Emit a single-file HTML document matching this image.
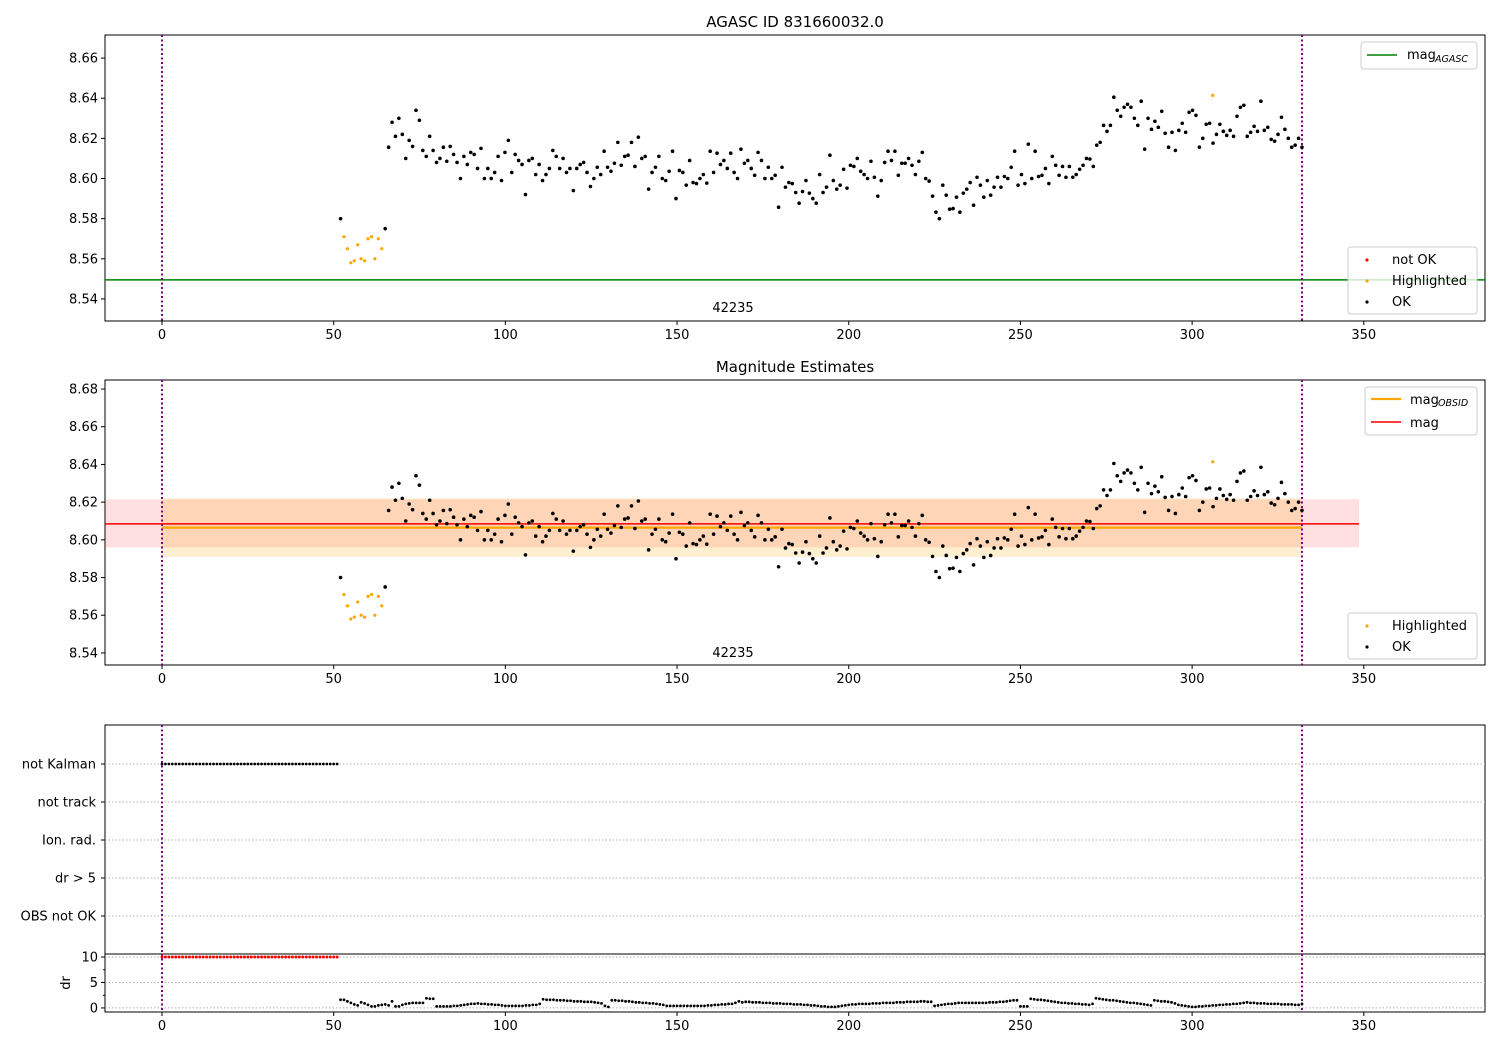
<!DOCTYPE html>
<html><head><meta charset="utf-8"><style>
body{margin:0;background:#fff;}
svg{display:block;font-family:"DejaVu Sans","Liberation Sans",sans-serif;}
</style></head><body>
<svg id="chart" width="1500" height="1050" viewBox="0 0 1500 1050" xmlns="http://www.w3.org/2000/svg"></svg>
<script>
// ---- data ----
const okEarlyX = [52, 65];
const okEarlyMag = [8.580, 8.575];
const hlX = [53,54,55,56,57,58,59,60,61,62,63,64,306];
const hlMag = [8.571,8.565,8.558,8.559,8.567,8.560,8.559,8.570,8.571,8.560,8.570,8.565,8.6414];
const okStartX = 66, okEndX = 332;
const okMag = [
8.6156,8.628,8.621,8.630,8.622,8.610,8.619,8.616,8.634,8.629,8.614,8.611,8.621,8.614,8.608,8.610,8.6156,8.6086,8.616,8.612,8.608,8.600,8.611,8.607,8.613,8.612,8.605,8.615,8.600,8.605,8.600,8.603,8.611,8.599,8.613,8.619,8.603,8.612,8.609,8.607,8.592,8.609,8.610,8.602,8.607,8.599,8.602,8.605,8.614,8.611,8.605,8.610,8.603,8.605,8.594,8.605,
8.607,8.608,8.603,8.596,8.600,8.6056,8.602,8.6136,8.6056,8.6036,8.6076,8.618,8.6066,8.611,8.6116,8.618,8.606,8.6206,8.610,8.611,8.5947,8.603,8.6056,8.611,8.600,8.599,8.6036,8.6136,8.590,8.604,8.603,8.5967,8.609,8.598,8.5975,8.600,8.602,8.5977,8.6136,8.603,8.6126,8.607,8.609,8.605,8.6126,8.603,8.600,8.6146,8.6076,8.609,8.605,8.6016,8.613,8.609,8.600,8.6056,8.600,8.6016,8.5857,8.6056,8.5957,8.598,8.5975,8.593,8.5877,8.5935,8.599,8.5927,8.590,8.5877,8.602,
8.593,8.5957,8.6116,8.599,8.5947,8.5967,8.6046,8.5952,8.6066,8.606,8.610,8.6036,8.602,8.600,8.6086,8.6006,8.5912,8.599,8.608,8.6136,8.609,8.6136,8.6016,8.6076,8.6076,8.610,8.6066,8.602,8.6086,8.613,8.600,8.5987,8.5912,8.5832,8.580,8.5967,8.5917,8.5847,8.585,8.5907,8.5832,8.5927,8.5947,8.598,8.5867,8.6006,8.5967,8.5907,8.599,8.5917,8.5957,8.6006,8.5957,8.601,8.600,8.6056,8.6136,8.5967,8.602,8.5975,8.6171,8.600,8.6136,8.601,8.6016,8.605,8.5975,8.611,8.6066,8.6016,8.606,8.6006,
8.606,8.6006,8.602,8.6046,8.6066,8.610,8.6097,8.606,8.6166,8.618,8.6265,8.6235,8.6265,8.6405,8.634,8.631,8.6355,8.637,8.6355,8.630,8.6265,8.6385,8.6146,8.630,8.6245,8.6285,8.6255,8.6335,8.6225,8.6156,8.623,8.614,8.624,8.6275,8.623,8.633,8.634,8.6315,8.6156,8.620,8.627,8.6275,8.6176,8.622,8.627,8.6235,8.6215,8.624,8.621,8.631,8.6355,8.6365,8.621,8.623,8.626,8.6235,8.6385,8.624,8.6255,8.6195,8.6186,8.622,8.6305,8.6245,8.620,8.6156,8.6166,8.620,8.6156
];
const drStartX = 52;
const drVals = [
1.6,1.6,1.3,1.0,0.7,0.5,1.1,0.9,0.6,0.3,0.3,0.5,0.6,0.7,0.5,1.3,0.3,0.3,0.6,0.8,0.9,1.0,1.0,1.0,1.0,1.9,1.8,1.8,
0.3,0.3,0.3,0.3,0.3,0.4,0.4,0.5,
0.6,0.7,0.8,0.8,0.9,0.8,0.8,0.7,0.7,0.6,0.6,0.5,
0.4,0.4,0.4,0.4,0.4,0.4,0.5,0.5,0.6,0.6,0.8,
1.7,1.6,1.6,1.6,1.5,1.5,1.5,1.4,1.4,1.3,1.3,1.3,1.2,1.2,1.2,1.1,1.0,0.9,0.4,
0.2,
1.5,1.5,1.4,1.4,1.3,1.3,1.2,1.1,1.1,1.0,1.0,0.9,0.9,0.8,0.7,0.6,
0.4,0.4,0.4,0.4,0.4,0.4,0.4,0.4,0.4,0.4,0.4,0.4,
0.5,0.5,0.6,0.6,0.7,0.7,0.8,0.8,
1.0,1.3,1.1,
1.2,1.2,1.1,1.1,1.1,1.0,1.0,1.0,0.9,0.9,0.9,0.8,0.8,0.8,0.7,0.7,0.7,0.6,0.6,0.5,0.5,0.4,0.3,0.3,
0.2,0.2,0.2,0.3,
0.4,0.5,0.6,0.7,0.7,0.8,
0.8,0.8,0.8,0.9,0.9,0.9,1.0,1.0,1.0,1.0,1.1,1.1,1.1,1.2,1.2,1.2,1.2,1.3,1.3,1.2,1.2,
0.4,0.5,0.6,0.7,0.8,0.8,0.9,
1.0,1.0,1.0,1.0,1.0,1.0,1.0,1.0,1.0,1.1,1.1,1.1,1.2,1.2,1.3,1.4,1.5,1.5,
0.3,0.3,0.3,
1.8,1.7,1.6,1.6,1.5,1.4,1.3,1.2,1.1,1.0,1.0,0.9,0.9,0.8,0.8,0.7,0.7,0.6,0.8,
1.9,1.8,1.7,1.6,1.5,1.5,1.4,1.3,1.2,1.1,1.0,1.0,0.9,0.8,0.7,0.6,0.5,
1.5,1.4,1.3,1.3,1.2,1.1,0.9,
0.6,0.5,0.4,0.3,0.2,0.2,0.3,
0.3,0.4,0.4,0.5,0.5,0.6,0.6,0.7,0.7,0.8,0.8,0.9,1.0,1.1,1.0,1.0,0.9,0.9,0.9,0.8,0.8,0.8,0.8,0.7,0.7,0.7,0.7,0.6,0.6,0.8
];
const notKalmanX = [0,1,2,3,4,5,6,7,8,9,10,11,12,13,14,15,16,17,18,19,20,21,22,23,24,25,26,27,28,29,30,31,32,33,34,35,36,37,38,39,40,41,42,43,44,45,46,47,48,49,50,51];
const drClippedVal = 10;
const xTicks = [0,50,100,150,200,250,300,350];
const p1YTicks = [8.54,8.56,8.58,8.60,8.62,8.64,8.66];
const p2YTicks = [8.54,8.56,8.58,8.60,8.62,8.64,8.66,8.68];
const categories = ["not Kalman","not track","Ion. rad.","dr > 5","OBS not OK"];
const drTicks = [0,5,10];
const magAgasc = 8.5495;
const magObsid = 8.6065, obsidLo = 8.591, obsidHi = 8.622;
const magMean = 8.6085, magLo = 8.596, magHi = 8.6215;
const obsStart = 0, obsEnd = 332;
const obsLabel = "42235";

// ---- helpers ----
const svg = document.getElementById('chart');
const NS = 'http://www.w3.org/2000/svg';
function el(tag, attrs, parent){const e=document.createElementNS(NS,tag);for(const k in attrs)e.setAttribute(k,attrs[k]);(parent||svg).appendChild(e);return e;}
function txt(s, attrs, parent){const e=el('text',attrs,parent);e.textContent=s;return e;}
const X0=105, X1=1485, xmin=-16.6, xmax=385.3;
const xs = v => X0 + (v - xmin)/(xmax - xmin)*(X1 - X0);
function linY(top,bot,vtop,vbot){return v => top + (vtop - v)/(vtop - vbot)*(bot - top);}
const y1 = linY(35,321,8.6715,8.529);
const y2 = linY(380,665,8.6848,8.5336);
const catY = i => 764 + i*38;
const yDr = linY(954,1012,10.6,-0.8);
const okX = i => okStartX + i*(okEndX-okStartX)/(okMag.length-1);

function frame(top,bot,name){
  const g=el('g',{});
  
  
  el('rect',{x:X0,y:top,width:X1-X0,height:bot-top,fill:'none',stroke:'#000','stroke-width':1},g);
  return g;
}
function xAxis(bot,name){
  const g=el('g',{});
  
  
  xTicks.forEach(t=>{const x=xs(t);el('line',{x1:x,x2:x,y1:bot,y2:bot+4,stroke:'#000'},g);
    txt(String(t),{x:x,y:bot+18,'font-size':13,'text-anchor':'middle'},g);});
}
function yAxis(ticks,fy,name,fmt){
  const g=el('g',{});
  
  
  ticks.forEach(t=>{const y=fy(t);el('line',{x1:X0-4,x2:X0,y1:y,y2:y,stroke:'#000'},g);
    txt(fmt(t),{x:X0-7,y:y+4.5,'font-size':13,'text-anchor':'end'},g);});
}
function vlines(top,bot,g){
  [obsStart,obsEnd].forEach(v=>{el('line',{x1:xs(v),x2:xs(v),y1:top,y2:bot,stroke:'#800080','stroke-width':2,'stroke-dasharray':'2,2.5'},g);});
}
function dots(xv,yv,fx,fy,color,r,g){
  for(let i=0;i<xv.length;i++){
    const c=el('circle',{cx:fx(xv[i]),cy:fy(yv[i]),r:r,fill:color},g);
    
    
  }
}
function magPoints(fy,g){
  dots(okEarlyX,okEarlyMag,xs,fy,'#000',1.8,g);
  dots(okMag.map((_,i)=>okX(i)),okMag,xs,fy,'#000',1.8,g);
  dots(hlX,hlMag,xs,fy,'orange',1.6,g);
}
function legendBox(x,y,w,h,name){
  const g=el('g',{});
  
  
  el('rect',{x:x,y:y,width:w,height:h,rx:3,fill:'#fff','fill-opacity':0.8,stroke:'#ccc'},g);
  return g;
}

// ---- panel 1 ----
const p1=frame(35,321,'panel-agasc');
el('line',{x1:X0,x2:X1,y1:y1(magAgasc),y2:y1(magAgasc),stroke:'green','stroke-width':1.5},p1);
vlines(35,321,p1);
magPoints(y1,p1);
txt(obsLabel,{x:733,y:312,'font-size':13,'text-anchor':'middle'},p1);
xAxis(321,'x-axis-agasc');
yAxis(p1YTicks,y1,'y-axis-agasc',t=>t.toFixed(2));
const t1=txt('AGASC ID 831660032.0',{x:795,y:27,'font-size':15,'text-anchor':'middle'});

let lg=legendBox(1361,42,116,27,'legend-mag-agasc');
el('line',{x1:1367,x2:1397,y1:55,y2:55,stroke:'green','stroke-width':1.5},lg);
txt('mag',{x:1407,y:59,'font-size':13},lg);
txt('AGASC',{x:1435,y:62,'font-size':9.5,'font-style':'italic'},lg);
lg=legendBox(1348,247,129,67,'legend-status');
el('circle',{cx:1367,cy:260,r:1.6,fill:'red'},lg);txt('not OK',{x:1392,y:264,'font-size':13},lg);
el('circle',{cx:1367,cy:281,r:1.6,fill:'orange'},lg);txt('Highlighted',{x:1392,y:285,'font-size':13},lg);
el('circle',{cx:1367,cy:302,r:1.6,fill:'#000'},lg);txt('OK',{x:1392,y:306,'font-size':13},lg);

// ---- panel 2 ----
const p2=frame(380,665,'panel-magnitude-estimates');
el('rect',{x:X0,y:y2(magHi),width:xs(348.6)-X0,height:y2(magLo)-y2(magHi),fill:'red','fill-opacity':0.12},p2);
el('rect',{x:xs(obsStart),y:y2(obsidHi),width:xs(obsEnd)-xs(obsStart),height:y2(obsidLo)-y2(obsidHi),fill:'orange','fill-opacity':0.18},p2);
el('line',{x1:xs(obsStart),x2:xs(obsEnd),y1:y2(magObsid),y2:y2(magObsid),stroke:'orange','stroke-width':2.2},p2);
el('line',{x1:X0,x2:xs(348.6),y1:y2(magMean),y2:y2(magMean),stroke:'red','stroke-width':1.5},p2);
vlines(380,665,p2);
magPoints(y2,p2);
txt(obsLabel,{x:733,y:657,'font-size':13,'text-anchor':'middle'},p2);
xAxis(665,'x-axis-estimates');
yAxis(p2YTicks,y2,'y-axis-estimates',t=>t.toFixed(2));
const t2=txt('Magnitude Estimates',{x:795,y:372,'font-size':15,'text-anchor':'middle'});

lg=legendBox(1365,387,112,48,'legend-mag-estimates');
el('line',{x1:1371,x2:1401,y1:399,y2:399,stroke:'orange','stroke-width':2.2},lg);
txt('mag',{x:1410,y:404,'font-size':13},lg);txt('OBSID',{x:1438,y:406,'font-size':9.5,'font-style':'italic'},lg);
el('line',{x1:1371,x2:1401,y1:422,y2:422,stroke:'red','stroke-width':1.5},lg);
txt('mag',{x:1410,y:427,'font-size':13},lg);
lg=legendBox(1348,613,129,46,'legend-status-estimates');
el('circle',{cx:1367,cy:626,r:1.6,fill:'orange'},lg);txt('Highlighted',{x:1392,y:630,'font-size':13},lg);
el('circle',{cx:1367,cy:647,r:1.6,fill:'#000'},lg);txt('OK',{x:1392,y:651,'font-size':13},lg);

// ---- panel 3 flags ----
const p3=frame(725,954,'panel-flags');
categories.forEach((c,i)=>{const y=catY(i);
  el('line',{x1:X0,x2:X1,y1:y,y2:y,stroke:'#b0b0b0','stroke-dasharray':'1.5,2'},p3);
  el('line',{x1:X0-4,x2:X0,y1:y,y2:y,stroke:'#000'},p3);
  const lb=txt(c,{x:X0-9,y:y+4.5,'font-size':13,'text-anchor':'end'},p3);
  
});
vlines(725,954,p3);
dots(notKalmanX,notKalmanX.map(()=>0),xs,()=>catY(0),'#000',1.4,p3);

// ---- panel 4 dr ----
const p4=frame(954,1012,'panel-dr');
drTicks.forEach(t=>{el('line',{x1:X0,x2:X1,y1:yDr(t),y2:yDr(t),stroke:'#b0b0b0','stroke-dasharray':'1.5,2'},p4);});
[2.5,7.5].forEach(t=>el('line',{x1:X0-2,x2:X0,y1:yDr(t),y2:yDr(t),stroke:'#000'},p4));
vlines(954,1012,p4);
dots(notKalmanX,notKalmanX.map(()=>drClippedVal),xs,yDr,'red',1.5,p4);
dots(drVals.map((_,i)=>drStartX+i),drVals,xs,yDr,'#000',1.4,p4);
yAxis(drTicks,yDr,'y-axis-dr',t=>String(t));
const dl=txt('dr',{x:0,y:0,'font-size':13,'text-anchor':'middle',transform:'translate(70,983) rotate(-90)'});

xAxis(1012,'x-axis-dr');
</script>
</body></html>
